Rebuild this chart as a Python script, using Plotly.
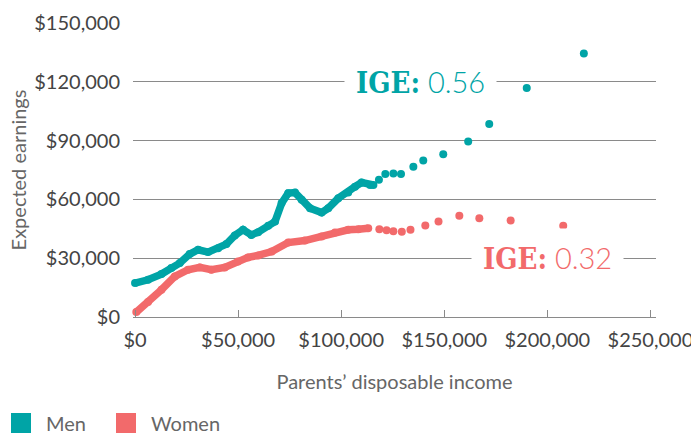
import plotly.graph_objects as go

# Parents' disposable income (dollars) and expected earnings (dollars)
men_dense_x = [0, 6300, 12800, 17600, 21700, 26500, 30600, 35400, 40300, 44300, 48400, 52400,
               56400, 59700, 64600, 67900, 71100, 74300, 77600, 80800, 84900, 90500, 93700,
               98600, 103400, 106700, 109900, 114000, 115600]
men_dense_y = [17300, 19000, 21900, 25000, 27500, 32100, 34300, 33100, 35100, 37200, 41600, 44500,
               41900, 43300, 46500, 48700, 58100, 63200, 63500, 59800, 55500, 53300, 55500,
               60600, 63500, 66500, 68600, 67400, 67400]
men_sparse_x = [118300, 121400, 125300, 129000, 135000, 139800, 149500, 161600, 171800, 190000, 217700]
men_sparse_y = [70000, 73000, 73200, 73000, 76700, 79800, 83000, 89500, 98500, 116800, 134500]

women_dense_x = [600, 6300, 12800, 19300, 25700, 31400, 37000, 43500, 49900, 54800, 59700, 66300,
                 74300, 82400, 90500, 97000, 103400, 108300, 113100]
women_dense_y = [2500, 7600, 13900, 20700, 24100, 25300, 24100, 25300, 28300, 30400, 31400, 33400,
                 38000, 39000, 41100, 43100, 44500, 44800, 45300]
women_sparse_x = [118500, 122000, 125300, 129400, 133600, 140800, 147200, 157300, 167000, 182200, 207700]
women_sparse_y = [44800, 44300, 43800, 43500, 44500, 46700, 48700, 51600, 50400, 49200, 46500]

x_ticks = [0, 50000, 100000, 150000, 200000, 250000]
x_tick_labels = ["$0", "$50,000", "$100,000", "$150,000", "$200,000", "$250,000"]
y_ticks = [0, 30000, 60000, 90000, 120000, 150000]
y_tick_labels = ["$0", "$30,000", "$60,000", "$90,000", "$120,000", "$150,000"]

TEAL = "#00A4A6"
CORAL = "#F26A6B"
GRID = "#8a8a8a"
TXT = "#444444"
FONT = "Lato"

fig = go.Figure()
for dx, dy, sx, sy, col, name in [
    (women_dense_x, women_dense_y, women_sparse_x, women_sparse_y, CORAL, "Women"),
    (men_dense_x, men_dense_y, men_sparse_x, men_sparse_y, TEAL, "Men"),
]:
    fig.add_trace(go.Scatter(x=dx, y=dy, mode="lines+markers", name=name,
                             line=dict(color=col, width=7.5),
                             marker=dict(color=col, size=8), showlegend=False,
                             cliponaxis=False))
    fig.add_trace(go.Scatter(x=sx, y=sy, mode="markers", name=name,
                             marker=dict(color=col, size=8), showlegend=False,
                             cliponaxis=False))

fig.update_layout(
    width=691, height=434,
    margin=dict(l=133, r=35, t=23, b=117, autoexpand=False),
    paper_bgcolor="white", plot_bgcolor="white",
    font=dict(family=FONT, color=TXT, size=20),
    showlegend=False,
    xaxis=dict(range=[-1000, 252700], tickvals=x_ticks, ticktext=x_tick_labels,
               ticks="inside", ticklen=7, tickcolor=GRID, tickwidth=1,
               showline=True, linecolor=GRID, linewidth=1,
               showgrid=False, zeroline=False, ticklabelstandoff=5,
               ticklabeloverflow="allow", automargin=False,
               tickfont=dict(size=20, color=TXT),
               title=dict(text="Parents’ disposable income", font=dict(size=20, color="#666"),
                          standoff=24)),
    yaxis=dict(range=[0, 150000], tickvals=y_ticks, ticktext=y_tick_labels,
               showgrid=True, gridcolor=GRID, gridwidth=1, zeroline=False,
               showline=False, ticks="", ticklabelstandoff=12, automargin=False,
               tickfont=dict(size=20, color=TXT),
               title=dict(text="Expected earnings", font=dict(size=20, color="#666"),
                          standoff=2)),
)

def ige(x, y, val, col):
    fig.add_annotation(
        x=x, y=y, xref="x", yref="y", showarrow=False,
        text=("<span style=\"font-family:'DejaVu Serif Condensed','DejaVu Serif';font-weight:bold\">IGE:</span>"
              f"<span style=\"font-family:Lato;font-weight:300\"> {val}</span>"),
        font=dict(size=29, color=col), bgcolor="white", borderpad=11,
        xanchor="center", yanchor="middle")

ige(138500, 120000, "0.56", TEAL)
ige(200300, 30000, "0.32", CORAL)

# legend
for x0, col, label in [(11, TEAL, "Men"), (116, CORAL, "Women")]:
    fig.add_shape(type="rect", xref="paper", yref="paper",
                  x0=(x0 - 133) / 523, x1=(x0 + 20 - 133) / 523,
                  y0=(317 - 433) / 294, y1=(317 - 413) / 294,
                  fillcolor=col, line=dict(width=0))
    fig.add_annotation(xref="paper", yref="paper", x=(x0 + 33 - 133) / 523, y=(317 - 423) / 294,
                       text=label, showarrow=False, xanchor="left", yanchor="middle",
                       font=dict(size=20, color="#666"))

fig.write_html("out.html", config={"displayModeBar": False},
               post_script="document.body.style.margin='0';")
